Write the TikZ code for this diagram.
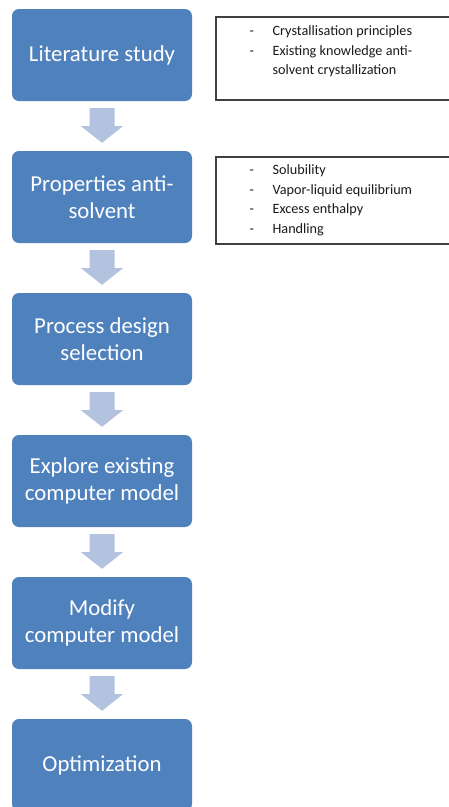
\documentclass[tikz,border=0pt]{standalone}
\usepackage{fontspec}
\setmainfont{Carlito}
\usetikzlibrary{calc}
\definecolor{boxblue}{HTML}{4F81BD}
\definecolor{arrowblue}{HTML}{B3C3DF}
\definecolor{sidetext}{HTML}{1A1A1A}
\begin{document}
\begin{tikzpicture}[x=1pt,y=-1pt,
  stepbox/.style={rectangle, rounded corners=7pt, fill=boxblue,
    minimum width=180pt, minimum height=92pt, inner sep=0pt,
    text=white, align=center,
    font=\fontsize{22.8pt}{27pt}\selectfont},
  notebox/.style={rectangle, draw=black!75, line width=1.1pt, inner sep=0pt},
  notetext/.style={anchor=base west, inner sep=0pt, text=sidetext,
    font=\fontsize{14.2pt}{19.7pt}\selectfont},
  flowarrow/.style={fill=arrowblue}
]
\useasboundingbox (0,0) rectangle (449,807);
\clip (0,0) rectangle (449,807);
\fill[white] (0,0) rectangle (449,807);

% main process steps
\node[stepbox] (n1) at (102,55)  {Literature study};
\node[stepbox] (n2) at (102,197) {Properties anti-\\solvent};
\node[stepbox] (n3) at (102,339) {Process design\\selection};
\node[stepbox] (n4) at (102,481) {Explore existing\\computer model};
\node[stepbox] (n5) at (102,623) {Modify\\computer model};
\node[stepbox] (n6) at (102,765) {Optimization};

% block arrows between consecutive steps
\foreach \a/\b in {n1/n2,n2/n3,n3/n4,n4/n5,n5/n6}{
  \fill[flowarrow]
    ($(\a.south)+(-12.5,7)$) -- ($(\a.south)+(12.5,7)$) --
    ($(\a.south)+(12.5,25)$) -- ($(\a.south)+(21,25)$) --
    ($(\b.north)+(0,-8)$) --
    ($(\a.south)+(-21,25)$) -- ($(\a.south)+(-12.5,25)$) -- cycle;
}

% side notes
\node[notebox, minimum width=254pt, minimum height=83pt] (s1) at (343,58.5) {};
\node[notebox, minimum width=254pt, minimum height=87pt] (s2) at (343,200.5) {};

\node[notetext] (t1) at ($(s1.north west)+(34,19)$) {%
  \begin{tabular}[t]{@{}p{23pt}@{}l@{}}
  - & Crystallisation principles\\
  - & Existing knowledge anti-\\
    & solvent crystallization
  \end{tabular}};
\node[notetext] (t2) at ($(s2.north west)+(34,18)$) {%
  \begin{tabular}[t]{@{}p{23pt}@{}l@{}}
  - & Solubility\\
  - & Vapor-liquid equilibrium\\
  - & Excess enthalpy\\
  - & Handling
  \end{tabular}};
\end{tikzpicture}
\end{document}
